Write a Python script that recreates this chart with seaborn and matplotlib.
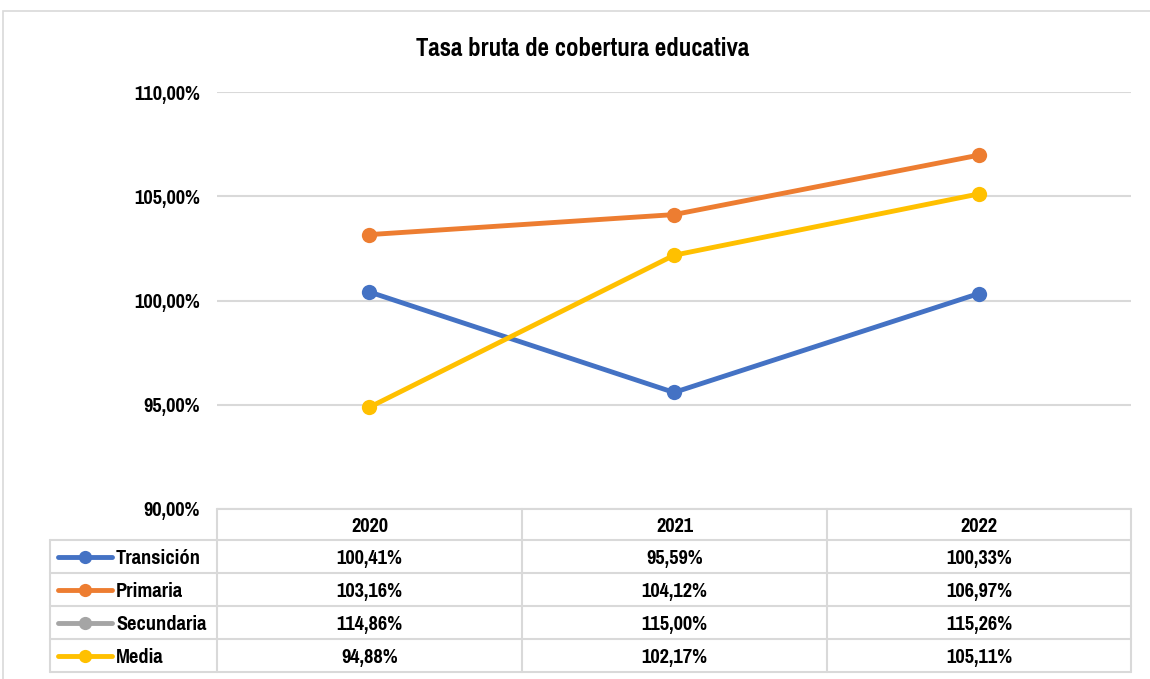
import matplotlib
matplotlib.use("Agg")
import matplotlib.pyplot as plt
from matplotlib.patches import Rectangle
from matplotlib.lines import Line2D
import seaborn as sns
import pandas as pd

years = ["2020", "2021", "2022"]
series = ["Transición", "Primaria", "Secundaria", "Media"]
transicion = [100.41, 95.59, 100.33]
primaria = [103.16, 104.12, 106.97]
secundaria = [114.86, 115.00, 115.26]
media = [94.88, 102.17, 105.11]
colors = ["#4472C4", "#ED7D31", "#A5A5A5", "#FFC000"]
y_ticks = [90, 95, 100, 105, 110]
title = "Tasa bruta de cobertura educativa"

values = [transicion, primaria, secundaria, media]
df = pd.DataFrame([
    {"Año": i, "Serie": s, "Valor": v}
    for s, vals in zip(series, values)
    for i, v in enumerate(vals)
])

sns.set_theme(style="white")
plt.rcParams["font.family"] = ["Pragati Narrow", "Roboto Condensed", "DejaVu Sans"]
plt.rcParams["font.weight"] = "bold"
plt.rcParams["text.color"] = "black"
plt.rcParams["ytick.color"] = "black"

FS = 16

W, H = 1150, 679
fig = plt.figure(figsize=(W / 100, H / 100), dpi=100)

def fx(px):
    return px / W

def fy(py):
    return 1 - py / H

grid_c = "#d9d9d9"

# outer chart frame
fig.patches.append(Rectangle((fx(3), fy(700)), fx(1200), fy(11) - fy(700),
                             transform=fig.transFigure, fill=False,
                             edgecolor=grid_c, linewidth=1.2))

# plot area
left, right, top, bottom = 217, 1131, 92, 509
ax = fig.add_axes([fx(left), fy(bottom), fx(right) - fx(left), fy(top) - fy(bottom)])
sns.lineplot(data=df, x="Año", y="Valor", hue="Serie", palette=colors,
             marker="o", markersize=11, markeredgewidth=0, linewidth=3.5,
             legend=False, ax=ax)
ax.set_xlim(-0.5, len(years) - 0.5)
ax.set_ylim(y_ticks[0], y_ticks[-1])
ax.set_yticks(y_ticks)
ax.set_yticklabels([f"{t:.2f}%".replace(".", ",") for t in y_ticks], fontsize=FS, fontweight="bold")
ax.set_xticks([])
ax.set_xlabel("")
ax.set_ylabel("")
ax.tick_params(axis="y", length=0, pad=12)
for sp in ax.spines.values():
    sp.set_visible(False)
ax.grid(axis="y", color=grid_c, linewidth=1.5)
ax.set_axisbelow(True)

fig.text(fx(583), fy(46), title, ha="center", va="center_baseline", fontsize=19.5, fontweight="bold")

# data table below the plot
col_edges = [217, 522, 827, 1131]
row_edges = [509, 540, 573, 606, 639, 672]
label_left = 50

def hline(x0, x1, y):
    fig.add_artist(Line2D([fx(x0), fx(x1)], [fy(y), fy(y)], color=grid_c, linewidth=1.5))

def vline(x, y0, y1):
    fig.add_artist(Line2D([fx(x), fx(x)], [fy(y0), fy(y1)], color=grid_c, linewidth=1.5))

hline(col_edges[0], col_edges[-1], row_edges[0])
for y in row_edges[1:]:
    hline(label_left, col_edges[-1], y)
for x in col_edges:
    vline(x, row_edges[0], row_edges[-1])
vline(label_left, row_edges[1], row_edges[-1])

for j, yr in enumerate(years):
    cx = (col_edges[j] + col_edges[j + 1]) / 2
    cy = (row_edges[0] + row_edges[1]) / 2
    fig.text(fx(cx), fy(cy), yr, ha="center", va="center_baseline", fontsize=FS, fontweight="bold")

for i, (name, vals, c) in enumerate(zip(series, values, colors)):
    cy = (row_edges[i + 1] + row_edges[i + 2]) / 2
    fig.add_artist(Line2D([fx(58), fx(112)], [fy(cy), fy(cy)], color=c, linewidth=3.5,
                          solid_capstyle="round"))
    fig.add_artist(Line2D([fx(85)], [fy(cy)], color=c, marker="o", markersize=9.5,
                          markeredgewidth=0))
    fig.text(fx(116), fy(cy), name, ha="left", va="center_baseline", fontsize=FS, fontweight="bold")
    for j, v in enumerate(vals):
        cx = (col_edges[j] + col_edges[j + 1]) / 2
        fig.text(fx(cx), fy(cy), f"{v:.2f}%".replace(".", ","), ha="center", va="center_baseline",
                 fontsize=FS, fontweight="bold")

fig.savefig("out.png", dpi=100, facecolor="white")
